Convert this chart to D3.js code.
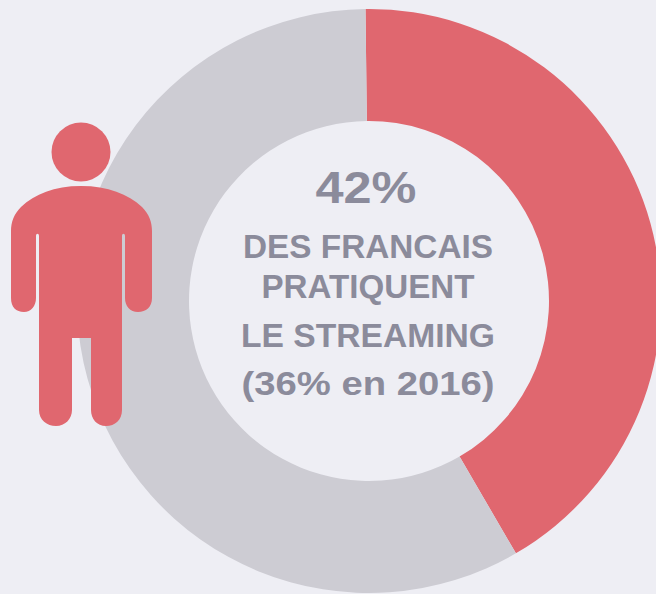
<!DOCTYPE html>
<html lang="fr">

<head>
    <meta charset="UTF-8">
    <title>Streaming en France</title>
    <script src="https://d3js.org/d3.v7.min.js"></script>
    <style>
        html, body { margin: 0; padding: 0; background: #eeeef4; overflow: hidden; }
        svg { display: block; }
        text { font-family: "Liberation Sans", Arial, sans-serif; font-weight: 700; fill: #8b8b9b; text-anchor: middle; }
    </style>
</head>

<body>
    <script>
        const width = 656;
        const height = 594;

        // parts of the ring
        const categories = ["pratiquent le streaming", "autres"];
        const values = [41.8, 58.2];
        const colors = ["#e0676f", "#cdccd3"];

        // centre labels
        const labels = ["42%", "DES FRANCAIS", "PRATIQUENT", "LE STREAMING", "(36% en 2016)"];
        const labelSizes = [44, 34, 34, 34, 33];
        const labelBaselines = [203, 258, 298, 347, 395];
        const labelWidths = [101, 250, 213, 254, 253];
        const labelCenters = [366, 368, 368, 368, 368];

        const cx = 369, cy = 301, outer = 292, inner = 180;

        const svg = d3.select("body").append("svg")
            .attr("width", width)
            .attr("height", height);

        svg.append("rect")
            .attr("width", width)
            .attr("height", height)
            .attr("fill", "#eeeef4");

        // the split at the top sits a touch left of the centre
        const start = -0.012;
        const pie = d3.pie().sort(null).startAngle(start).endAngle(start + 2 * Math.PI).value(d => d)(values);
        const arc = d3.arc().innerRadius(inner).outerRadius(outer);
        const color = d3.scaleOrdinal(categories, colors);

        svg.append("g")
            .attr("transform", `translate(${cx},${cy})`)
            .selectAll("path")
            .data(pie)
            .join("path")
            .attr("d", arc)
            .attr("fill", (d, i) => color(categories[i]));

        // little man on the left
        const person = svg.append("g").attr("fill", "#e0676f");
        person.append("circle").attr("cx", 81).attr("cy", 152).attr("r", 29.5);
        person.append("path").attr("d",
            "M81 186 C108 186 128 194 142 207 C149 214 152 222 152 231 L152 298 " +
            "C152 307 146 312 138 312 C130 312 125 306 125 298 L125 236 " +
            "C125 233 122 233 122 236 L122 410 C122 420 115 426 106 426 C97 426 91 419 91 410 L91 338 " +
            "L72 338 L72 410 C72 419 65 426 56 426 C47 426 39 420 39 410 L39 236 " +
            "C39 233 36 233 36 236 L36 298 C36 306 31 312 24 312 C16 312 11 307 11 298 L11 231 " +
            "C11 222 14 214 21 207 C35 194 54 186 81 186 Z");

        svg.append("g")
            .selectAll("text")
            .data(labels)
            .join("text")
            .attr("x", (d, i) => labelCenters[i])
            .attr("y", (d, i) => labelBaselines[i])
            .attr("font-size", (d, i) => labelSizes[i])
            .attr("textLength", (d, i) => labelWidths[i])
            .attr("lengthAdjust", "spacingAndGlyphs")
            .text(d => d);
    </script>
</body>

</html>
